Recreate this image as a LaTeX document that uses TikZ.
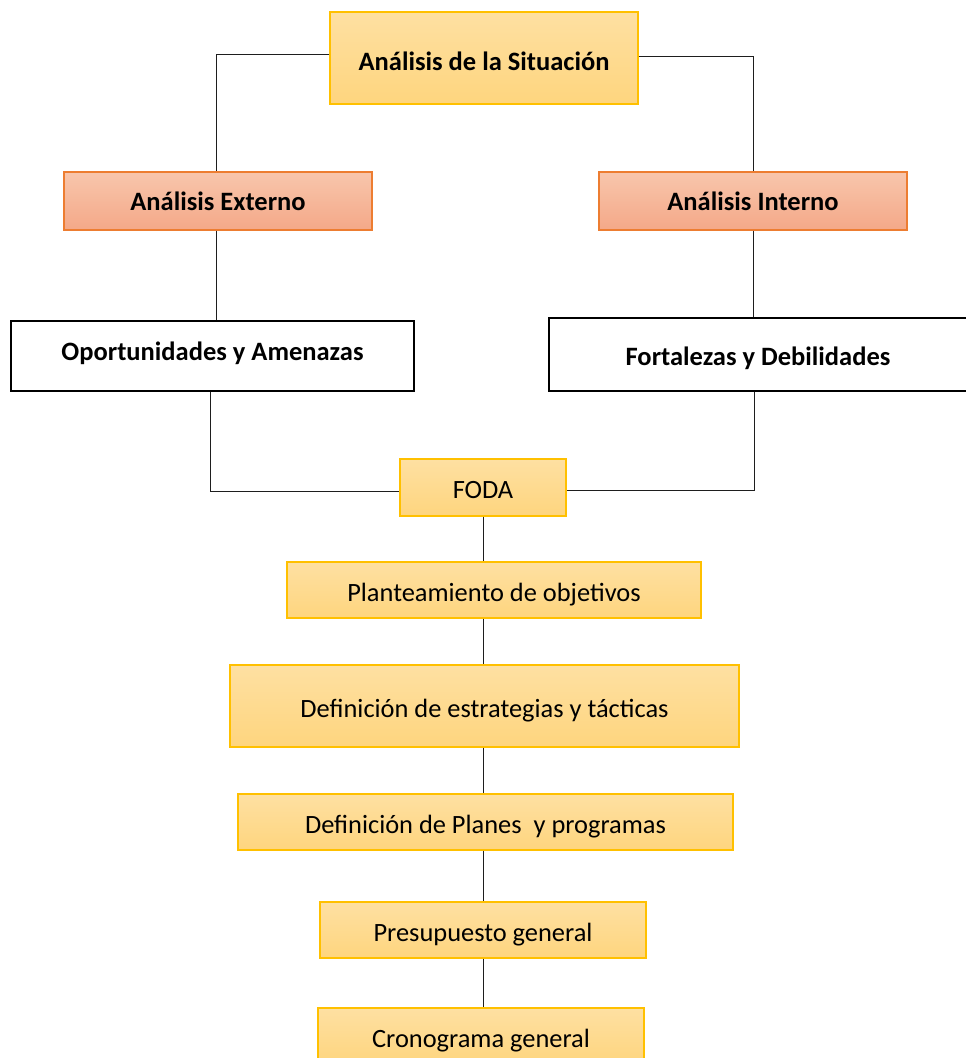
\documentclass[tikz,border=0pt]{standalone}
\usepackage{fontspec}
\setmainfont{Carlito}
\begin{document}
\begin{tikzpicture}[x=1pt,y=-1pt,
  box/.style={rectangle,inner sep=0pt,align=center},
  yellowbox/.style={box,draw={rgb,255:red,255;green,192;blue,0},line width=1.2pt,
    top color={rgb,255:red,254;green,224;blue,162},bottom color={rgb,255:red,254;green,213;blue,126}},
  salmonbox/.style={box,draw={rgb,255:red,237;green,125;blue,49},line width=1.2pt,
    top color={rgb,255:red,248;green,198;blue,172},bottom color={rgb,255:red,244;green,168;blue,136}},
  whitebox/.style={box,draw=black,line width=1.8pt,fill=white},
  link/.style={draw={rgb,255:red,30;green,30;blue,30},line width=0.9pt},
  heading/.style={font=\fontsize{26.5}{31}\selectfont\bfseries},
  plain/.style={font=\fontsize{26.4}{31}\selectfont,text height=22pt,text depth=0pt}]
\useasboundingbox (0,0) rectangle (966,1058);

% top level
\node[yellowbox,heading,minimum width=308,minimum height=92,text height=25pt,text depth=0pt] (sit) at (484,58) {Análisis de la Situación};
% external / internal analysis
\node[salmonbox,heading,minimum width=308,minimum height=58] (ext) at (218,201) {Análisis Externo};
\node[salmonbox,heading,minimum width=308,minimum height=58] (int) at (753,201) {Análisis Interno};
% results of each analysis
\node[whitebox,heading,minimum width=403,minimum height=70,text depth=10pt] (oya) at (212.5,356) {Oportunidades y Amenazas};
\node[whitebox,heading,minimum width=418,minimum height=73,text height=22pt,text depth=0pt] (fyd) at (758,354.5) {Fortalezas y Debilidades};
% planning sequence
\node[yellowbox,plain,minimum width=166,minimum height=57] (foda) at (483,487.5) {FODA};
\node[yellowbox,plain,minimum width=414,minimum height=56] (plan) at (494,590) {Planteamiento de objetivos};
\node[yellowbox,plain,minimum width=509,minimum height=82] (estr) at (484.5,706) {Definición de estrategias y tácticas};
\node[yellowbox,plain,minimum width=495,minimum height=56] (prog) at (485.5,822) {Definición de Planes\ \ y programas};
\node[yellowbox,plain,minimum width=326,minimum height=56] (pres) at (483,930) {Presupuesto general};
\node[yellowbox,plain,minimum width=326,minimum height=56] (cron) at (481,1036) {Cronograma general};

% connectors
\draw[link] ([yshift=4pt]sit.west) -| ([xshift=-2pt]ext.north);
\draw[link] ([yshift=2pt]sit.east) -| (int.north);
\draw[link] ([xshift=-2pt]ext.south) -- ([xshift=-2pt]ext.south |- oya.north);
\draw[link] (int.south) -- (int.south |- fyd.north);
\draw[link] ([xshift=-2pt]oya.south) |- ([yshift=-3.5pt]foda.west);
\draw[link] ([xshift=-4pt]fyd.south) |- ([yshift=-3pt]foda.east);
\draw[link] (foda.south) -- (foda.south |- plan.north);
\draw[link] (foda.south |- plan.south) -- (foda.south |- estr.north);
\draw[link] (foda.south |- estr.south) -- (foda.south |- prog.north);
\draw[link] (foda.south |- prog.south) -- (foda.south |- pres.north);
\draw[link] (foda.south |- pres.south) -- (foda.south |- cron.north);
\end{tikzpicture}
\end{document}
